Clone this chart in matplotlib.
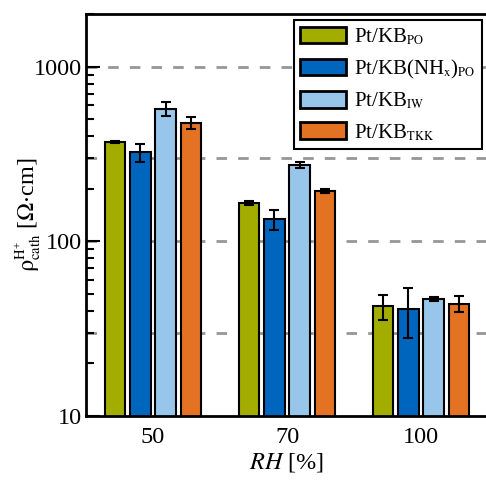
import matplotlib
matplotlib.use('Agg')
import matplotlib.pyplot as plt
import matplotlib._mathtext as mathtext_core
import numpy as np
from matplotlib.ticker import FixedLocator, FuncFormatter, LogLocator, NullFormatter

# 相対湿度ごとのカソード抵抗率データ
rh_labels = ['50', '70', '100']
series_names = [r'Pt/KB$_{\mathrm{PO}}$',
                r'Pt/KB(NH$_{\mathrm{x}}$)$_{\mathrm{PO}}$',
                r'Pt/KB$_{\mathrm{IW}}$',
                r'Pt/KB$_{\mathrm{TKK}}$']
rho_po = [370, 166, 42.5]
rho_po_err = [4, 4, 7]
rho_nhx = [324, 134, 41]
rho_nhx_err = [38, 18, 13]
rho_iw = [573, 274, 46.8]
rho_iw_err = [50, 11, 1.5]
rho_tkk = [477, 194, 44]
rho_tkk_err = [35, 4, 4.4]
colors = ['#A2AD00', '#0065BD', '#98C6EA', '#E37222']

plt.rcParams['font.family'] = ['Liberation Serif', 'DejaVu Serif']
plt.rcParams['mathtext.fontset'] = 'stix'
# 添字を小さめにする
mathtext_core.SHRINK_FACTOR = 0.6

fig = plt.figure(figsize=(4.86, 4.8), dpi=100)
ax = fig.add_axes([86/486, 1-416/480, 402/486, 402/480])

x = np.arange(len(rh_labels))
step = 0.187
width = 0.15
values = [rho_po, rho_nhx, rho_iw, rho_tkk]
errors = [rho_po_err, rho_nhx_err, rho_iw_err, rho_tkk_err]

# 破線のグリッド（バーの後ろ）
for g in [30, 100, 300, 1000]:
    ax.axhline(g, color='#969696', lw=2, dashes=(3.8, 4), zorder=0)

for i in range(4):
    pos = x + (i - 1.5) * step
    ax.bar(pos, values[i], width, color=colors[i], edgecolor='black',
           linewidth=1.5, label=series_names[i], zorder=2)
    ax.errorbar(pos, values[i], yerr=errors[i], fmt='none', ecolor='black',
                elinewidth=1.5, capsize=3.6, capthick=1.5, zorder=3)

ax.set_yscale('log')
ax.set_ylim(10, 2000)
ax.set_xlim(-0.5, 2.5)
ax.yaxis.set_major_locator(FixedLocator([10, 100, 1000]))
ax.yaxis.set_major_formatter(FuncFormatter(lambda v, p: '%d' % v))
ax.yaxis.set_minor_locator(LogLocator(base=10, subs=np.arange(2, 10)))
ax.yaxis.set_minor_formatter(NullFormatter())
ax.set_xticks(x)
ax.set_xticklabels(rh_labels)
ax.tick_params(axis='y', which='major', direction='in', length=10, width=1.5,
               labelsize=17.5, pad=3)
ax.tick_params(axis='y', which='minor', direction='in', length=6, width=1.5)
ax.tick_params(axis='x', length=0, labelsize=17.5, pad=8)

for s in ['left', 'bottom', 'top']:
    ax.spines[s].set_linewidth(2)
ax.spines['right'].set_visible(False)

ax.set_xlabel(r'$RH$ [%]', fontsize=17.5, labelpad=2)
ax.set_ylabel(r'$\mathrm{\rho}^{\mathrm{H}^{+}}_{\mathrm{cath}}$ [$\Omega$$\cdot$cm]', fontsize=17.5)
ax.yaxis.set_label_coords(-0.105, 0.5)

leg = ax.legend(loc='upper right', fontsize=15, fancybox=False, framealpha=1,
                edgecolor='black', handlelength=2.2, handleheight=0.85,
                labelspacing=0.5, borderaxespad=0.3, handletextpad=0.4,
                borderpad=0.3)
leg.get_frame().set_linewidth(1.5)
for h in leg.legend_handles:
    h.set_linewidth(2)

fig.savefig('out.png', dpi=100)
